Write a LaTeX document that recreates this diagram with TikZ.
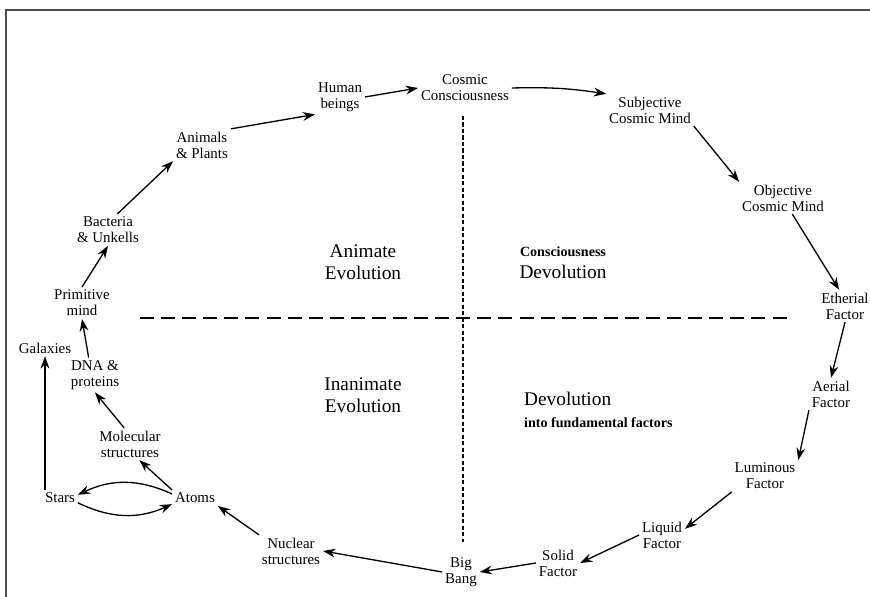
\documentclass[tikz,border=0pt]{standalone}
\usepackage{fontspec}
\setmainfont{Liberation Serif}
\usetikzlibrary{arrows.meta}
\newcommand\notefont{\fontsize{8}{9}\selectfont\bfseries}

\begin{document}
\begin{tikzpicture}[x=0.02cm,y=-0.02cm,
    item/.style={align=center,inner sep=1.5pt,font=\fontsize{8.5}{9}\selectfont},
    region/.style={align=center,font=\fontsize{11}{12.5}\selectfont},
    arr/.style={-{Stealth[length=7pt,width=5pt]},line width=0.75pt},
    hdiv/.style={dash pattern=on 8pt off 4pt,line width=0.6pt},
    vdiv/.style={dash pattern=on 2.5pt off 1.2pt,line width=0.6pt},
    frame/.style={line width=0.8pt,black!70}]
    \useasboundingbox (0,0) rectangle (870,597);

    % Rand der Seite
    \draw[frame] (870,10) -- (6,10) -- (6,597);

    % Trennlinien
    \draw[hdiv] (140,318) -- (790,318);
    \draw[vdiv] (463,116) -- (463,542);

    % Stationen des Kreislaufs
    \foreach \name/\x/\y/\txt in {
        anim/202/145/{Animals\\\& Plants},
        hum/340/97/{Human\\beings},
        cosc/465/88/{Cosmic\\Consciousness},
        subj/650/110/{Subjective\\Cosmic Mind},
        obj/783/198/{Objective\\Cosmic Mind},
        eth/845/306/{Etherial\\Factor},
        aer/831/394/{Aerial\\Factor},
        lum/765/476/{Luminous\\Factor},
        liq/662/535/{Liquid\\Factor},
        sol/558/563/{Solid\\Factor},
        bb/461/572/{Big\\Bang},
        nuc/291/551/{Nuclear\\structures},
        atm/195/498/{Atoms},
        sta/60/498/{Stars},
        mol/130/444/{Molecular\\structures},
        dna/95/375/{DNA \&\\proteins},
        gal/45/348/{Galaxies},
        prim/82/303/{Primitive\\mind},
        bact/108/230/{Bacteria\\\& Unkells}}
    {
        \node[item] (\name) at (\x,\y) {\txt};
    }

    % Quadranten
    \node[region] (animev) at (363,262) {Animate\\Evolution};
    \node[region] (inanev) at (363,395) {Inanimate\\Evolution};
    \node[region] (consdev) at (563,263) {{\notefont Consciousness}\\Devolution};
    \node[region,align=left,anchor=west] (factdev) at (518,410)
        {Devolution\\{\notefont into fundamental factors}};

    % Pfeile
    \foreach \a/\b in {
        anim.north east/hum.south west,
        hum.east/cosc.west,
        subj.south east/obj.north west,
        obj.-60/eth.110,
        eth.south/aer.north,
        aer.south west/lum.north east,
        lum.south west/liq.15,
        liq.west/sol.east,
        sol.west/bb.east,
        bb.west/nuc.east,
        nuc.north west/atm.south east,
        atm.north west/mol.-60,
        mol.110/dna.south,
        dna.110/prim.south,
        prim.north/bact.south,
        bact.60/anim.south west}
    {
        \draw[arr] (\a) -- (\b);
    }
    \draw[arr] (cosc.east) to[bend left=5] (subj.north west);
    \draw[arr] (atm.170) to[bend right=25] (sta.10);
    \draw[arr] (sta.-15) to[bend right=25] (atm.-165);
    \draw[arr] (gal.south |- sta.north) -- (gal.south);
\end{tikzpicture}
\end{document}
